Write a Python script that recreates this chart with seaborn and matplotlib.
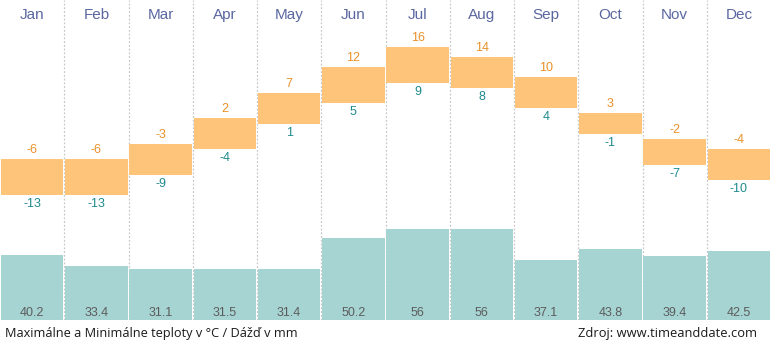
import matplotlib
matplotlib.use("Agg")
import matplotlib.pyplot as plt
import seaborn as sns
import pandas as pd

months = ["Jan", "Feb", "Mar", "Apr", "May", "Jun", "Jul", "Aug", "Sep", "Oct", "Nov", "Dec"]
t_max = [-6, -6, -3, 2, 7, 12, 16, 14, 10, 3, -2, -4]
t_min = [-13, -13, -9, -4, 1, 5, 9, 8, 4, -1, -7, -10]
precip = [40.2, 33.4, 31.1, 31.5, 31.4, 50.2, 56, 56, 37.1, 43.8, 39.4, 42.5]
precip_labels = ["40.2", "33.4", "31.1", "31.5", "31.4", "50.2", "56", "56", "37.1", "43.8", "39.4", "42.5"]
footer_left = "Maximálne a Minimálne teploty v °C / Dážď v mm"
footer_right = "Zdroj: www.timeanddate.com"

sns.set_theme(style="white")
plt.rcParams["font.family"] = ["Liberation Sans", "DejaVu Sans"]

W, H = 771, 348
fig = plt.figure(figsize=(W / 100, H / 100), dpi=100)
bottom_px = 320
rect = [0, (H - bottom_px) / H, 1, bottom_px / H]

# precipitation axis
ax_p = fig.add_axes(rect)
df = pd.DataFrame({"month": months, "precip": precip})
sns.barplot(data=df, x="month", y="precip", color="#a6d4d2", saturation=1,
            width=0.975, ax=ax_p, linewidth=0, zorder=2)
ax_p.set_xlim(-0.5, 11.5)
ax_p.set_ylim(0, bottom_px / 1.625)
ax_p.axis("off")
for i, lab in enumerate(precip_labels):
    ax_p.annotate(lab, (i, 0), xytext=(0, 7 * 0.72), textcoords="offset points",
                  ha="center", va="center", color="#5c5c5c", fontsize=9, zorder=5)

# grid lines
for b in range(1, 12):
    ax_p.axvline(b - 0.5, color="#c8c8c8", lw=0.9, ls=(0, (1.5, 1.5)), zorder=1)

# temperature axis
ax_t = fig.add_axes(rect, sharex=ax_p)
ax_t.patch.set_alpha(0)
zero_px = 128.7
scale = 5.13
top_t = zero_px / scale
ax_t.set_ylim((zero_px - bottom_px) / scale, top_t)
heights = [mx - mn for mx, mn in zip(t_max, t_min)]
ax_t.bar(range(12), heights, bottom=t_min, width=0.975, color="#fdc47a", linewidth=0, zorder=3)
ax_t.axis("off")
for i in range(12):
    ax_t.annotate(str(t_max[i]), (i, t_max[i]), xytext=(0, 2.2), textcoords="offset points",
                  ha="center", va="bottom", color="#e8912a", fontsize=9)
    ax_t.annotate(str(t_min[i]), (i, t_min[i]), xytext=(0, -2.2), textcoords="offset points",
                  ha="center", va="top", color="#1d8a8e", fontsize=9)
    ax_t.annotate(months[i], (i, top_t), xytext=(0, -19 * 0.72), textcoords="offset points",
                  ha="center", va="baseline", color="#5a67a0", fontsize=11)

fig.text(5 / W, 1 - 333 / H, footer_left, ha="left", va="center", fontsize=9.2,
         color="#1a1a1a", family=["Open Sans", "DejaVu Sans"])
fig.text(757 / W, 1 - 333 / H, footer_right, ha="right", va="center", fontsize=9.3,
         color="#1a1a1a", family=["Open Sans", "DejaVu Sans"])

fig.savefig("out.png", dpi=100)
